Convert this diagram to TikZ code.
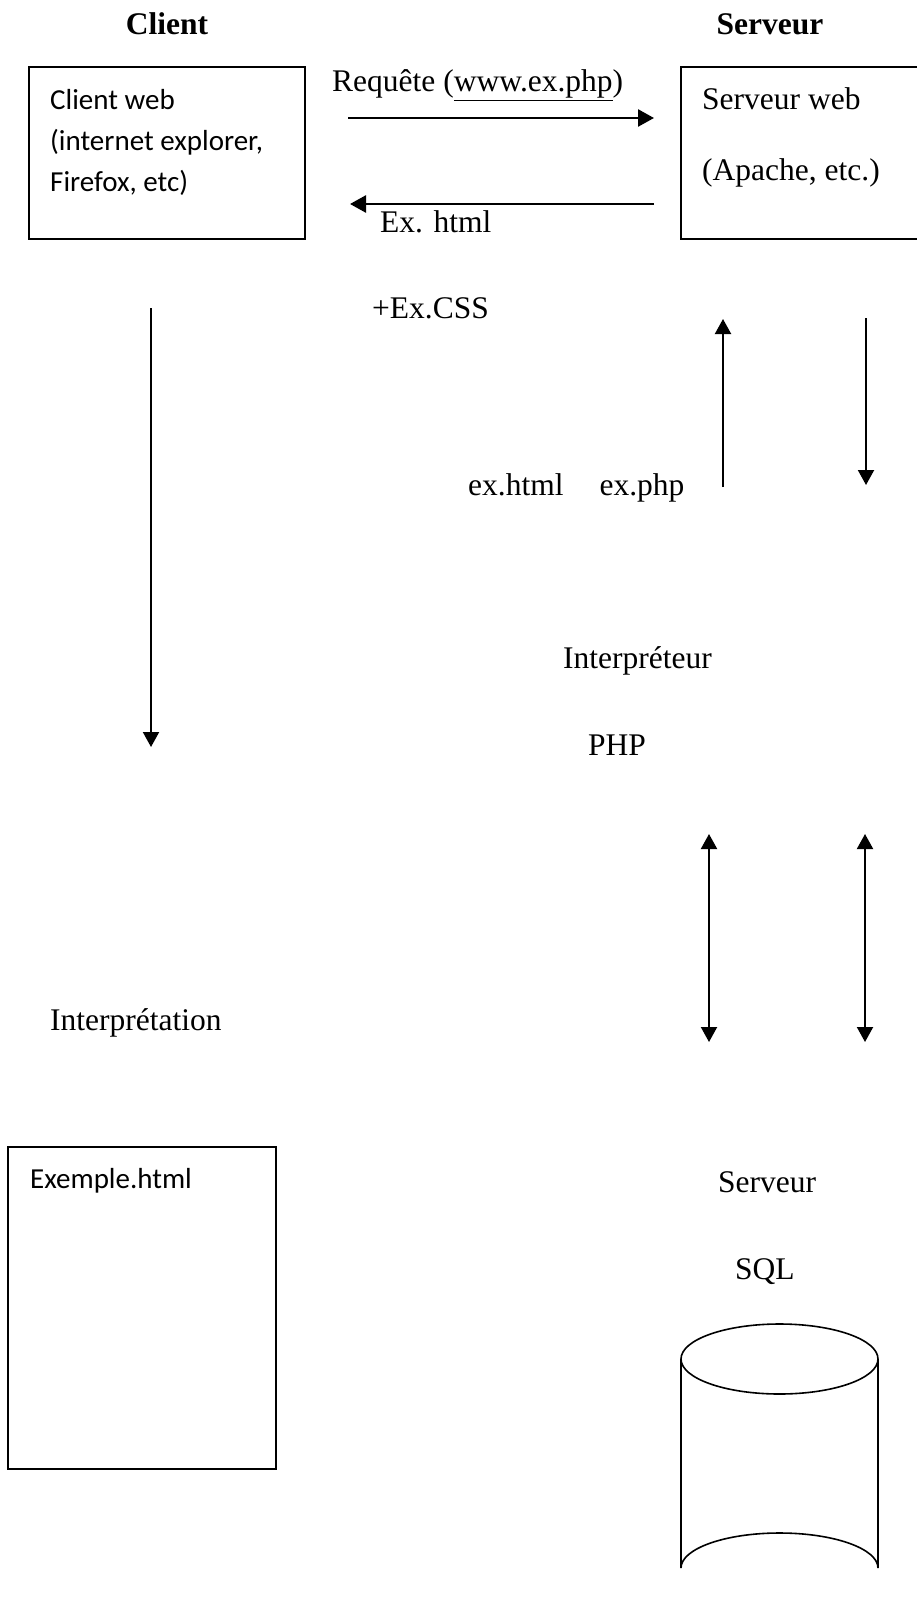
\documentclass[tikz,border=0pt]{standalone}
\usepackage{fontspec}
\setmainfont{Liberation Serif}
\newfontfamily\calibri{Carlito}
\usetikzlibrary{arrows.meta}
\begin{document}
\begin{tikzpicture}[x=1pt,y=-1pt,
  txt/.style={inner sep=0pt,anchor=base west,font=\fontsize{31.5}{38}\selectfont},
  ttl/.style={inner sep=0pt,anchor=base,font=\fontsize{31.5}{38}\selectfont\bfseries},
  sans/.style={inner sep=0pt,anchor=base west,font=\calibri\fontsize{29}{41}\selectfont},
  boxline/.style={draw=black,line width=1.6pt},
  arr/.style={line width=2pt,-{Triangle[length=15pt,width=16pt]}},
  harr/.style={line width=2.6pt,-{Triangle[length=16pt,width=17pt]}},
  darr/.style={line width=2pt,{Triangle[length=15pt,width=16pt]}-{Triangle[length=15pt,width=16pt]}}]
\useasboundingbox (0,0) rectangle (917,1597);
\clip (0,0) rectangle (917,1597);
\fill[white] (0,0) rectangle (917,1597);

% titles
\node[ttl] (tclient) at (167,35) {Client};
\node[ttl] (tserveur) at (770,35) {Serveur};

% boxes
\draw[boxline] (29,67) rectangle (305,239);
\node[sans] (cw1) at (50,110) {Client web};
\node[sans] (cw2) at (50,151) {(internet explorer,};
\node[sans] (cw3) at (50,192) {Firefox, etc)};
\draw[boxline] (681,67) rectangle (940,239);
\node[txt] (sw1) at (702,110) {Serveur web};
\node[txt] (sw2) at (702,181) {(Apache, etc.)};

% request / response
\node[txt] (req) at (332,92) {Requête (\underline{www.ex.php})};
\coordinate (r1) at (348,118); \coordinate (r2) at (654,118);
\draw[harr] (r1) -- (r2);
\coordinate (l1) at (654,204); \coordinate (l2) at (350,204);
\draw[harr] (l1) -- (l2);
\node[txt] (exh) at (380,233) {Ex. html};
\node[txt] (css) at (372,318) {+Ex.CSS};

% client down arrow
\coordinate (cd1) at (151,308); \coordinate (cd2) at (151,747);
\draw[arr] (cd1) -- (cd2);

% server <-> interpreter
\coordinate (u1) at (723,487); \coordinate (u2) at (723,319);
\draw[arr] (u1) -- (u2);
\coordinate (d1) at (866,318); \coordinate (d2) at (866,485);
\draw[arr] (d1) -- (d2);
\node[txt] (exf) at (468,495) {ex.html\hspace{36pt}ex.php};

\node[txt] (interp) at (563,668) {Interpréteur};
\node[txt] (php) at (588,755) {PHP};

% interpreter <-> SQL
\coordinate (a1) at (709,834); \coordinate (a2) at (709,1042);
\draw[darr] (a1) -- (a2);
\coordinate (b1) at (865,834); \coordinate (b2) at (865,1042);
\draw[darr] (b1) -- (b2);

\node[txt] (interpr) at (50,1030) {Interprétation};

% Exemple box
\draw[boxline] (8,1147) rectangle (276,1469);
\node[sans] (exm) at (30,1188) {Exemple.html};

% SQL server
\node[txt] (srv) at (718,1192) {Serveur};
\node[txt] (sql) at (735,1279) {SQL};
\coordinate (cyl) at (779.5,1359);
\draw[boxline] (cyl) ellipse [x radius=98.5, y radius=35];
\draw[boxline] (681,1359) -- (681,1568) arc[start angle=180,end angle=360,x radius=98.5,y radius=35] -- (878,1359);
\end{tikzpicture}
\end{document}
